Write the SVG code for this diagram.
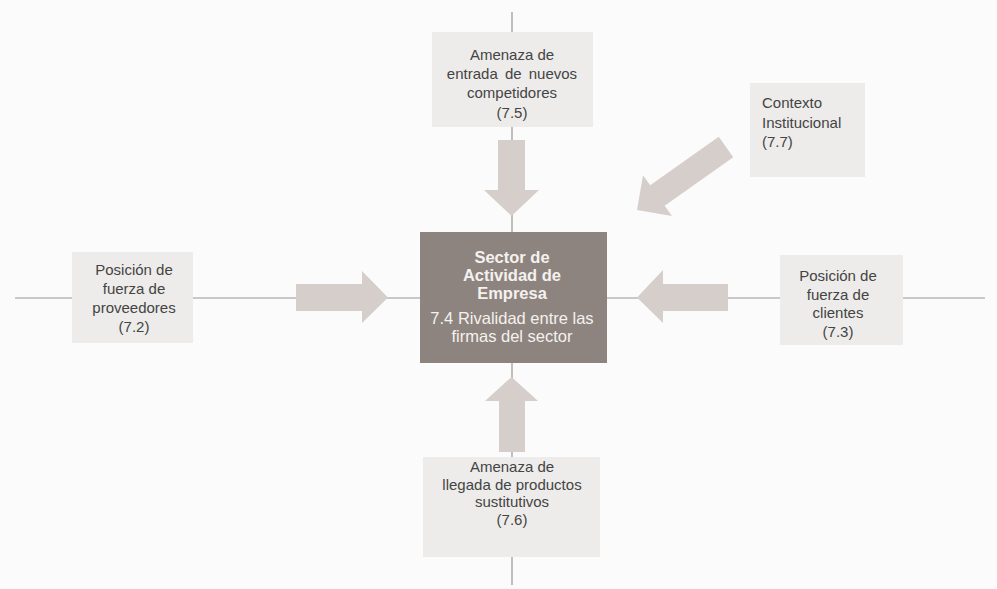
<svg xmlns="http://www.w3.org/2000/svg" width="997" height="589" viewBox="0 0 997 589">
  <style>
    .bg { fill: #fbfbfb; }
    .box { fill: #edecea; }
    .core { fill: #8e847f; }
    .line { stroke: #9a9693; stroke-width: 1.2; fill: none; }
    .arrow { fill: #d5cecb; }
    .lbl { font-family: "Liberation Sans", Arial, sans-serif; font-size: 15px; fill: #444; text-anchor: middle; }
    .lbl-l { text-anchor: start; }
    .core-t { font-family: "Liberation Sans", Arial, sans-serif; font-size: 16.5px; fill: #f4f1ee; text-anchor: middle; }
    .core-b { font-weight: bold; }
  </style>
  <rect class="bg" x="0" y="0" width="997" height="589"/>

  <g id="connectors">
    <line class="line" x1="512" y1="12" x2="512" y2="585"/>
    <line class="line" x1="15" y1="298" x2="985" y2="298"/>
    <polygon class="arrow" points="498,140 525,140 525,190 539,190 511.5,216 484,190 498,190"/>
    <polygon class="arrow" points="499,452 525,452 525,401 538,401 511.5,377 485,401 499,401"/>
    <polygon class="arrow" points="296,284 362,284 362,271 388,297.5 362,323 362,311 296,311"/>
    <polygon class="arrow" points="728,284 663,284 663,270 637,297.5 663,323 663,311 728,311"/>
    <polygon class="arrow" transform="translate(726,147) rotate(144.7)" points="0,-12.5 84,-12.5 84,-25 109,0 84,25 84,12.5 0,12.5"/>
  </g>

  <g id="node-entrantes">
    <rect class="box" x="432" y="32" width="161" height="95"/>
    <text class="lbl" x="512" y="60">Amenaza de</text>
    <text class="lbl" x="512" y="79" word-spacing="3">entrada de nuevos</text>
    <text class="lbl" x="512" y="98">competidores</text>
    <text class="lbl" x="512" y="118">(7.5)</text>
  </g>

  <g id="node-contexto">
    <rect class="box" x="750" y="83" width="115" height="94"/>
    <text class="lbl lbl-l" x="762" y="108">Contexto</text>
    <text class="lbl lbl-l" x="762" y="128">Institucional</text>
    <text class="lbl lbl-l" x="762" y="147">(7.7)</text>
  </g>

  <g id="node-proveedores">
    <rect class="box" x="72" y="252" width="121" height="91"/>
    <text class="lbl" x="134" y="275">Posición de</text>
    <text class="lbl" x="134" y="294">fuerza de</text>
    <text class="lbl" x="134" y="313">proveedores</text>
    <text class="lbl" x="134" y="332">(7.2)</text>
  </g>

  <g id="node-sector">
    <rect class="core" x="420" y="232" width="187" height="131"/>
    <text class="core-t core-b" x="512" y="263">Sector de</text>
    <text class="core-t core-b" x="512" y="281">Actividad de</text>
    <text class="core-t core-b" x="512" y="299">Empresa</text>
    <text class="core-t" x="512" y="324">7.4 Rivalidad entre las</text>
    <text class="core-t" x="512" y="342">firmas del sector</text>
  </g>

  <g id="node-clientes">
    <rect class="box" x="780" y="255" width="123" height="90"/>
    <text class="lbl" x="838" y="281">Posición de</text>
    <text class="lbl" x="838" y="300">fuerza de</text>
    <text class="lbl" x="838" y="318">clientes</text>
    <text class="lbl" x="838" y="337">(7.3)</text>
  </g>

  <g id="node-sustitutos">
    <rect class="box" x="423" y="457" width="177" height="100"/>
    <text class="lbl" x="512" y="472">Amenaza de</text>
    <text class="lbl" x="512" y="490">llegada de productos</text>
    <text class="lbl" x="512" y="507">sustitutivos</text>
    <text class="lbl" x="512" y="525">(7.6)</text>
  </g>
</svg>
